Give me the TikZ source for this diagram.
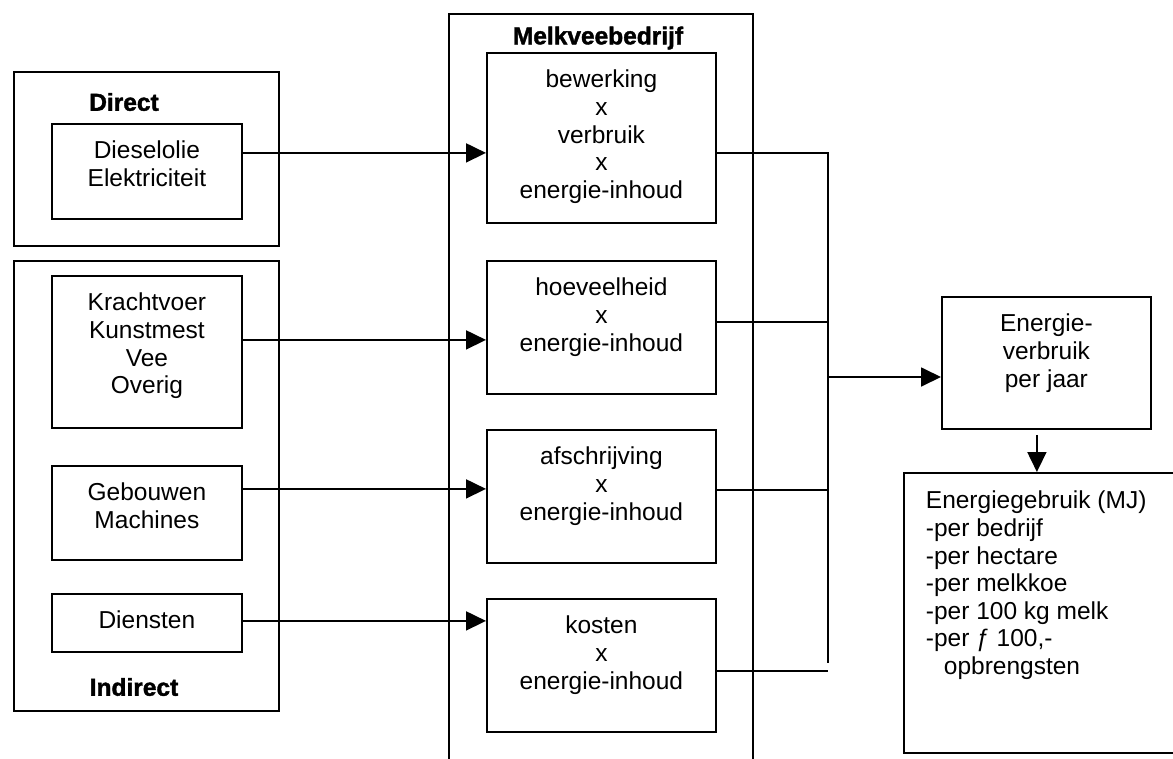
\documentclass[tikz,border=0pt]{standalone}
\usepackage{fontspec}
\setmainfont{Liberation Sans}
\newfontfamily\zwaar{Liberation Sans}[BoldFeatures={FakeBold=1.6}]
\usetikzlibrary{arrows.meta}
\newcommand\inhoud[3]{\parbox[c][#2pt][t]{#1pt}{\centering\rule{0pt}{35pt}#3}}

\begin{document}
\begin{tikzpicture}[
   x=1pt,y=-1pt,
   font=\fontsize{24.5}{27.6}\selectfont,
   kader/.style={draw,line width=2pt,inner sep=0pt,anchor=north west},
   blok/.style={draw,line width=1.8pt,inner sep=0pt,anchor=north west},
   kop/.style={font=\fontsize{24.5}{27.6}\selectfont\zwaar\bfseries,inner sep=0pt},
   pijl/.style={-{Triangle[length=20pt,width=19pt]},line width=1.8pt},
   lijn/.style={line width=1.6pt}]
\useasboundingbox (0,0) rectangle (1173,758);
% kaders
\node[kader,minimum width=265pt,minimum height=174pt] (direct) at (13,71) {};
\node[kader,minimum width=265pt,minimum height=450pt] (indirect) at (13,260) {};
\node[kader,minimum width=304pt,minimum height=780pt] (bedrijf) at (448,13) {};
\node[kop] (directkop) at (124,102) {Direct};
\node[kop] (indirectkop) at (134,687) {Indirect};
\node[kop] (bedrijfkop) at (598,38) {Melkveebedrijf};
% bronnen
\node[blok] (diesel) at (51,123) {\inhoud{190}{95}{Dieselolie\\Elektriciteit}};
\node[blok] (kracht) at (51,275) {\inhoud{190}{152}{Krachtvoer\\Kunstmest\\Vee\\Overig}};
\node[blok] (gebouw) at (51,465) {\inhoud{190}{94}{Gebouwen\\Machines}};
\node[blok] (dienst) at (51,593) {\inhoud{190}{58}{Diensten}};
% berekening
\node[blok] (bewerk) at (486,52) {\inhoud{229}{170}{bewerking\\x\\verbruik\\x\\energie-inhoud}};
\node[blok] (hoeveel) at (486,260) {\inhoud{229}{133}{hoeveelheid\\x\\energie-inhoud}};
\node[blok] (afschr) at (486,429) {\inhoud{229}{133}{afschrijving\\x\\energie-inhoud}};
\node[blok] (kosten) at (486,598) {\inhoud{229}{133}{kosten\\x\\energie-inhoud}};
% resultaat
\node[blok] (verbruik) at (941,296) {\inhoud{209}{132}{Energie-\\verbruik\\per jaar}};
\node[blok] (gebruik) at (903,472) {\parbox[c][280pt][t]{330pt}{\raggedright\leftskip=22pt\rule{0pt}{36pt}Energiegebruik (MJ)\\-per bedrijf\\-per hectare\\-per melkkoe\\-per 100 kg melk\\-per ƒ 100,-\\\hspace*{18pt}opbrengsten}};
\coordinate (verzboven) at (828,152);
\coordinate (verzmidden) at (828,377);
\coordinate (verzonder) at (828,663);
% verbindingen
\draw[pijl] ([yshift=18.5pt]diesel.east) -- ([yshift=18.5pt]diesel.east -| bewerk.west);
\draw[pijl] ([yshift=12pt]kracht.east) -- ([yshift=12pt]kracht.east -| hoeveel.west);
\draw[pijl] ([yshift=24pt]gebouw.east) -- ([yshift=24pt]gebouw.east -| afschr.west);
\draw[pijl] ([yshift=2pt]dienst.east) -- ([yshift=2pt]dienst.east -| kosten.west);
\draw[lijn] ([yshift=-15pt]bewerk.east) -- ([yshift=-15pt]bewerk.east -| verzboven);
\draw[lijn] ([yshift=5.5pt]hoeveel.east) -- ([yshift=5.5pt]hoeveel.east -| verzboven);
\draw[lijn] ([yshift=6.5pt]afschr.east) -- ([yshift=6.5pt]afschr.east -| verzboven);
\draw[lijn] ([yshift=-5.5pt]kosten.east) -- ([yshift=-5.5pt]kosten.east -| verzboven);
\draw[lijn] (verzboven) -- (verzonder);
\draw[pijl] (verzmidden) -- (verzmidden -| verbruik.west);
\draw[pijl] ([xshift=-9.5pt,yshift=-5pt]verbruik.south) -- ([xshift=-9.5pt]verbruik.south |- gebruik.north);
\end{tikzpicture}
\end{document}
